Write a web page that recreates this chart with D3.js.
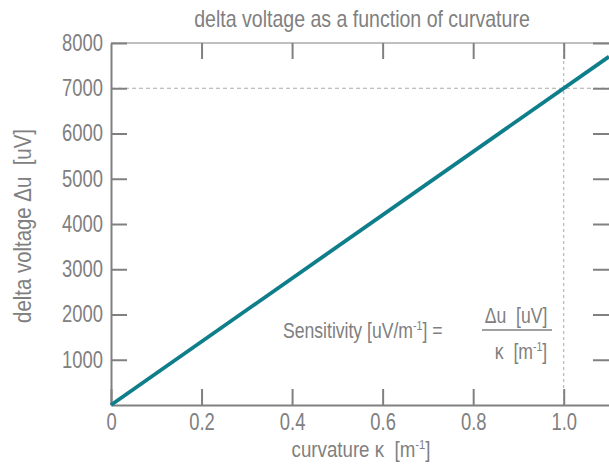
<!DOCTYPE html>
<html>
<head>
<meta charset="utf-8">
<script src="https://cdn.jsdelivr.net/npm/d3@7"></script>
<style>
  body { margin: 0; background: #fff; }
  text { font-family: "Liberation Sans", Arial, sans-serif; fill: #808080; white-space: pre; }
</style>
</head>
<body>
<svg id="chart" width="609" height="466"></svg>
<script>
// data
const curvature = [0, 1.1];
const deltaU = [0, 7700];
const xTicks = [0, 0.2, 0.4, 0.6, 0.8, 1.0];
const yTicks = [1000, 2000, 3000, 4000, 5000, 6000, 7000, 8000];
const markX = 1.0;
const markY = 7000;

const svg = d3.select("#chart");
const margin = { top: 43, right: 0, bottom: 61, left: 111 };
const width = 609 - margin.left - margin.right;
const height = 466 - margin.top - margin.bottom;
const grey = "#808080";
const squeeze = 0.85;     // the original uses a narrow face
const tickSqueeze = 0.8;

const x = d3.scaleLinear().domain([0, 1.1]).range([0, width]);
const y = d3.scaleLinear().domain([0, 8000]).range([height, 0]);

const g = svg.append("g").attr("transform", `translate(${margin.left},${margin.top})`);

// dashed guide lines
g.append("line")
    .attr("x1", 0).attr("x2", width)
    .attr("y1", y(markY)).attr("y2", y(markY))
    .attr("stroke", "#aaa").attr("stroke-width", 1.2).attr("stroke-dasharray", "4,3");
g.append("line")
    .attr("x1", x(markX)).attr("x2", x(markX))
    .attr("y1", 0).attr("y2", height)
    .attr("stroke", "#aaa").attr("stroke-width", 1).attr("stroke-dasharray", "3,3");

// top border
g.append("line").attr("x1", 0).attr("x2", width).attr("y1", 0).attr("y2", 0)
    .attr("stroke", grey).attr("stroke-width", 1);

function styleAxis(sel) {
    sel.select(".domain").attr("stroke", grey).attr("stroke-width", 2);
    sel.selectAll(".tick line").attr("stroke", grey).attr("stroke-width", 2);
    sel.selectAll(".tick text").attr("fill", grey).style("font-size", "23px")
        .style("font-family", "Liberation Sans, Arial, sans-serif")
        .each(function () {
            const t = d3.select(this);
            t.attr("x", (+t.attr("x") || 0) / tickSqueeze).attr("transform", `scale(${tickSqueeze},1)`);
        });
}

const xAxis = g.append("g")
    .attr("transform", `translate(0,${height})`)
    .call(d3.axisBottom(x).tickValues(xTicks).tickSizeInner(-16).tickSizeOuter(0)
        .tickPadding(9).tickFormat((d, i) => i === 0 ? "0" : d3.format(".1f")(d)));
styleAxis(xAxis);

const yAxis = g.append("g")
    .call(d3.axisLeft(y).tickValues(yTicks).tickSizeInner(-16).tickSizeOuter(0)
        .tickPadding(8).tickFormat(d3.format("d")));
styleAxis(yAxis);

// mirrored ticks on top and right
const topAxis = g.append("g")
    .call(d3.axisTop(x).tickValues(xTicks.slice(1)).tickSizeInner(-16).tickSizeOuter(0).tickFormat(""));
topAxis.select(".domain").remove();
topAxis.selectAll(".tick line").attr("stroke", grey).attr("stroke-width", 2);

const rightAxis = g.append("g")
    .attr("transform", `translate(${width},0)`)
    .call(d3.axisRight(y).tickValues(yTicks).tickSizeInner(-16).tickSizeOuter(0).tickFormat(""));
rightAxis.select(".domain").remove();
rightAxis.selectAll(".tick line").attr("stroke", grey).attr("stroke-width", 2);

// data line
const line = d3.line().x(d => x(d[0])).y(d => y(d[1]));
g.append("path")
    .datum(curvature.map((c, i) => [c, deltaU[i]]))
    .attr("fill", "none")
    .attr("stroke", "#0f7e8b")
    .attr("stroke-width", 3.8)
    .attr("d", line);

// narrow text helper: parts are [string, isSuperscript]
function label(tx, ty, size, anchor, parts, rot, sq = squeeze) {
    const grp = svg.append("g")
        .attr("transform", `translate(${tx},${ty})${rot ? ` rotate(${rot})` : ""} scale(${sq},1)`);
    const t = grp.append("text").attr("text-anchor", anchor).style("font-size", size + "px");
    let up = false;
    parts.forEach(([s, sup]) => {
        const sp = t.append("tspan").text(s);
        if (sup && !up) { sp.attr("dy", -size * 0.38).style("font-size", (size * 0.6) + "px"); up = true; }
        else if (!sup && up) { sp.attr("dy", size * 0.38); up = false; }
    });
    return t;
}

label(362, 27, 23, "middle", [["delta voltage as a function of curvature"]]);
label(361, 457, 22, "middle", [["curvature κ  [m"], ["-1", true], ["]"]]);
label(31, 226, 24, "middle", [["delta voltage Δu  [uV]"]], -90);

// sensitivity annotation
label(283, 338, 22, "start", [["Sensitivity [uV/m"], ["-1", true], ["] ="]], 0, 0.8);
label(516, 323, 22, "middle", [["Δu  [uV]"]], 0, 0.8);
svg.append("line")
    .attr("x1", 482).attr("x2", 552).attr("y1", 330).attr("y2", 330)
    .attr("stroke", grey).attr("stroke-width", 1.5);
label(521, 359, 22, "middle", [["κ  [m"], ["-1", true], ["]"]], 0, 0.8);
</script>
</body>
</html>
